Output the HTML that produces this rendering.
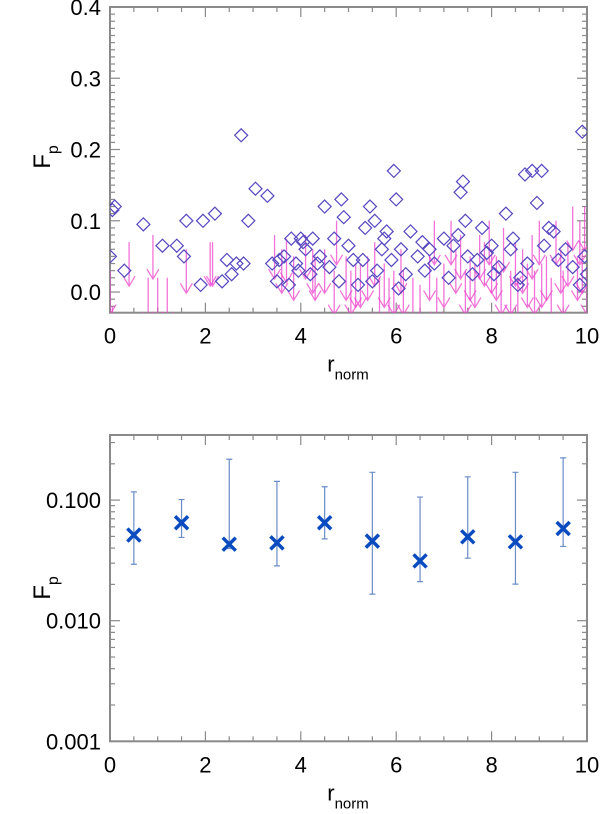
<!DOCTYPE html>
<html><head><meta charset="utf-8">
<style>
html,body{margin:0;padding:0;background:#fff;}
svg{display:block;font-family:"Liberation Sans",Arial,sans-serif;}
</style></head>
<body>
<svg id="chart" width="600" height="814" viewBox="0 0 600 814" xmlns="http://www.w3.org/2000/svg">
<g id="top"></g>
<g id="bot"></g>
</svg>
<script>
// ---- top panel data ----
const detX = [0.0,0.05,0.1,0.3,0.7,1.1,1.4,1.55,1.6,1.9,1.95,2.2,2.35,2.45,2.55,2.65,2.75,2.8,2.9,3.05,3.3,3.4,3.5,3.55,3.65,3.75,3.8,3.9,3.95,4.0,4.05,4.1,4.2,4.25,4.35,4.4,4.5,4.6,4.7,4.8,4.85,4.9,5.0,5.1,5.2,5.3,5.35,5.45,5.5,5.55,5.6,5.7,5.75,5.8,5.9,5.95,6.0,6.05,6.1,6.2,6.3,6.45,6.55,6.6,6.7,6.8,7.0,7.1,7.2,7.3,7.35,7.4,7.45,7.5,7.6,7.7,7.8,7.9,8.0,8.05,8.15,8.3,8.4,8.45,8.55,8.6,8.7,8.75,8.85,8.95,9.05,9.1,9.2,9.3,9.4,9.55,9.7,9.85,9.9,9.95,10.0];
const detY = [0.05,0.115,0.12,0.03,0.095,0.065,0.065,0.05,0.1,0.01,0.1,0.11,0.015,0.045,0.025,0.04,0.22,0.04,0.1,0.145,0.135,0.04,0.015,0.045,0.05,0.01,0.075,0.04,0.03,0.075,0.07,0.06,0.025,0.075,0.04,0.05,0.12,0.035,0.075,0.015,0.13,0.105,0.065,0.045,0.01,0.045,0.09,0.12,0.015,0.1,0.03,0.06,0.075,0.085,0.045,0.17,0.13,0.005,0.06,0.025,0.085,0.05,0.07,0.03,0.06,0.04,0.075,0.02,0.065,0.08,0.14,0.155,0.1,0.05,0.025,0.045,0.09,0.055,0.065,0.025,0.035,0.11,0.06,0.075,0.01,0.02,0.165,0.04,0.17,0.125,0.17,0.065,0.09,0.085,0.045,0.06,0.035,0.01,0.225,0.05,0.025];
const limX = [0.0,0.05,0.4,0.8,0.9,1.0,1.2,1.6,2.1,2.15,3.45,3.6,3.7,3.85,4.1,4.25,4.3,4.5,4.7,4.75,4.95,5.05,5.15,5.25,5.4,5.55,5.65,5.75,5.85,5.95,6.1,6.15,6.35,6.5,6.7,6.8,6.85,7.0,7.15,7.25,7.35,7.45,7.55,7.65,7.75,7.85,7.95,8.0,8.1,8.2,8.25,8.4,8.5,8.55,8.65,8.75,8.85,8.9,9.0,9.05,9.15,9.25,9.35,9.45,9.5,9.6,9.7,9.8,9.85,9.9,9.95,10.0];
const limY = [0.03,-0.02,0.07,0.02,0.08,0.02,0.02,0.06,0.07,0.07,0.08,0.06,0.075,0.05,0.08,0.06,0.05,0.06,0.03,0.1,0.05,0.03,0.04,0.04,0.05,0.07,0.02,0.04,0.02,0.03,0.06,0.03,0.02,0.01,0.05,0.1,0.02,0.04,0.1,0.06,0.08,0.03,0.05,0.04,0.08,0.07,0.1,0.06,0.05,0.03,0.09,0.03,0.07,0.02,0.06,0.04,0.08,0.03,0.1,0.04,0.05,0.02,0.1,0.06,0.03,0.07,0.12,0.05,0.1,0.06,0.12,0.03];
const topYTicks = [0.0,0.1,0.2,0.3,0.4];
const topYLabels = ["0.0","0.1","0.2","0.3","0.4"];
const xTicks = [0,2,4,6,8,10];
const xLabels = ["0","2","4","6","8","10"];
// ---- bottom panel data ----
const binX = [0.5,1.5,2.5,3.5,4.5,5.5,6.5,7.5,8.5,9.5];
const binVal = [0.0513,0.0649,0.0431,0.0442,0.0649,0.0457,0.0313,0.0496,0.0451,0.0582];
const binHi = [0.117,0.101,0.218,0.143,0.129,0.170,0.106,0.156,0.170,0.224];
const binLo = [0.0294,0.049,0.0397,0.0285,0.0477,0.0166,0.0211,0.033,0.0201,0.0413];
const botYTicks = [0.001,0.01,0.1];
const botYLabels = ["0.001","0.010","0.100"];

const NS = "http://www.w3.org/2000/svg";
function mk(parent, tag, attrs){ const e=document.createElementNS(NS,tag); for(const k in attrs) e.setAttribute(k,attrs[k]); parent.appendChild(e); return e; }

const L=110, R=587;
const xs = v => L + (v-0)/(10-0)*(R-L);
const T1=7, B1=312.7, yTopMin=-0.029, yTopMax=0.4;
const ys1 = v => B1 - (v-yTopMin)/(yTopMax-yTopMin)*(B1-T1);
const T2=435, B2=741.3, lmin=-3, lmax=-3+(741.3-435)/120.6;
const ys2 = v => B2 - (Math.log10(v)-lmin)/(lmax-lmin)*(B2-T2);

const AX="#8a8a8a";
function frame(g, T, B){
  const r=mk(g,'rect',{x:L,y:T,width:R-L,height:B-T,fill:'none',stroke:AX,'stroke-width':2});
  
  
  for(let v=0; v<=10.001; v+=0.5){
    const major = Math.abs(v-Math.round(v/2)*2)<1e-6;
    const len = major?10:5;
    mk(g,'line',{x1:xs(v),x2:xs(v),y1:B,y2:B-len,stroke:AX,'stroke-width':1.2});
    mk(g,'line',{x1:xs(v),x2:xs(v),y1:T,y2:T+len,stroke:AX,'stroke-width':1.2});
  }
  xTicks.forEach((v,i)=>{
    const t=mk(g,'text',{x:xs(v),y:B+31,'font-size':22,'text-anchor':'middle',fill:'#000'});
    t.textContent=xLabels[i];
    
    
  });
  const xt=mk(g,'text',{x:348,y:B+59,'font-size':22,'text-anchor':'middle',fill:'#000'});
  
  
  xt.innerHTML='r<tspan dy="8" font-size="15">norm</tspan>';
}
function ytitle(g, cy){
  const t=mk(g,'text',{x:0,y:0,'font-size':24,'text-anchor':'middle',fill:'#000',transform:`translate(50,${cy}) rotate(-90)`});
  
  
  t.innerHTML='F<tspan dy="8" font-size="16">p</tspan>';
}

// ---- top panel ----
const gt=document.getElementById('top');
frame(gt,T1,B1);
for(let k=0;k<=43;k++){
  const v=-0.02+k*0.01; if(v>0.4001) break;
  const major = Math.abs(v*10-Math.round(v*10))<1e-6;
  const len = major?10:5;
  mk(gt,'line',{x1:L,x2:L+len,y1:ys1(v),y2:ys1(v),stroke:AX,'stroke-width':1.2});
  mk(gt,'line',{x1:R,x2:R-len,y1:ys1(v),y2:ys1(v),stroke:AX,'stroke-width':1.2});
}
topYTicks.forEach((v,i)=>{
  const t=mk(gt,'text',{x:101,y:ys1(v)+8,'font-size':22,'text-anchor':'end',fill:'#000'});
  t.textContent=topYLabels[i];
  
  
});
ytitle(gt,157);
const clip=mk(gt,'clipPath',{id:'c1'}); mk(clip,'rect',{x:L,y:T1,width:R-L,height:B1-T1});
const mg=mk(gt,'g',{'clip-path':'url(#c1)'});
limX.forEach((x,i)=>{
  const px=xs(x), py=ys1(limY[i]), len=44;
  const a=mk(mg,'path',{d:`M${px},${py}L${px},${py+len}M${px-6},${py+len-10}L${px},${py+len}L${px+6},${py+len-10}`,fill:'none',stroke:'#ee44cc','stroke-opacity':0.75,'stroke-width':1.3});
  
  
});
detX.forEach((x,i)=>{
  const px=xs(x), py=ys1(detY[i]), s=6.5;
  const d=mk(mg,'path',{d:`M${px},${py-s}L${px+s},${py}L${px},${py+s}L${px-s},${py}Z`,fill:'none',stroke:'#5548c0','stroke-width':1.2});
  
  
});

// ---- bottom panel ----
const gb=document.getElementById('bot');
frame(gb,T2,B2);
for(let e=-3;e<=-1;e++){
  for(let m=1;m<=9;m++){
    const v=m*Math.pow(10,e); if(Math.log10(v)>lmax) break;
    const len=m===1?10:5;
    mk(gb,'line',{x1:L,x2:L+len,y1:ys2(v),y2:ys2(v),stroke:AX,'stroke-width':1.2});
    mk(gb,'line',{x1:R,x2:R-len,y1:ys2(v),y2:ys2(v),stroke:AX,'stroke-width':1.2});
  }
}
botYTicks.forEach((v,i)=>{
  const t=mk(gb,'text',{x:101,y:ys2(v)+8,'font-size':22,'text-anchor':'end',fill:'#000'});
  t.textContent=botYLabels[i];
  
  
});
ytitle(gb,588);
binX.forEach((x,i)=>{
  const px=xs(x);
  const eb=mk(gb,'path',{d:`M${px},${ys2(binHi[i])}L${px},${ys2(binLo[i])}M${px-3},${ys2(binHi[i])}L${px+3},${ys2(binHi[i])}M${px-3},${ys2(binLo[i])}L${px+3},${ys2(binLo[i])}`,stroke:'#6a8cc8','stroke-width':1.2,fill:'none'});
  
  
  const py=ys2(binVal[i]), s=6.5;
  const m=mk(gb,'path',{d:`M${px-s},${py-s}L${px+s},${py+s}M${px-s},${py+s}L${px+s},${py-s}`,stroke:'#0a4bc0','stroke-width':3.5,fill:'none'});
  
  
});
</script>
</body></html>
